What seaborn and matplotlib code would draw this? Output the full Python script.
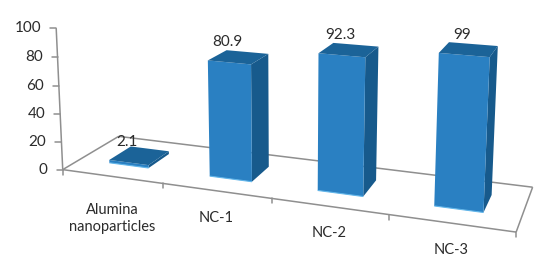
import numpy as np
import pandas as pd
import matplotlib
matplotlib.use("Agg")
import matplotlib.pyplot as plt
from matplotlib.transforms import Transform
import seaborn as sns

categories = ["Alumina\nnanoparticles", "NC-1", "NC-2", "NC-3"]
values = [2.1, 80.9, 92.3, 99]
value_labels = ["2.1", "80.9", "92.3", "99"]
y_ticks = [0, 20, 40, 60, 80, 100]

FRONT = "#2a80c2"
SIDE = "#175a8c"
TOP = "#1b6398"
RIM = "#62b6ea"
GREY = "#8f8f8f"
TEXT = "#2b2b2b"

# camera: (category pos, value, depth) seen at pixel (px, py), solved below
camera_world = np.array([
    [-0.5, 0, 0], [-0.5, 100, 0], [-0.5, 0, 1], [3.5, 0, 0], [3.5, 0, 1],
    [0.5, 0, 0], [1.5, 0, 0], [2.5, 0, 0],
    [-0.2, 2.1, 0.3], [0.2, 2.1, 0.3], [0.2, 2.1, 0.7], [-0.2, 2.1, 0.7],
    [0.8, 80.9, 0.3], [1.2, 80.9, 0.3], [0.8, 0, 0.3], [1.2, 0, 0.3], [1.2, 80.9, 0.7], [0.8, 80.9, 0.7],
    [1.8, 92.3, 0.3], [2.2, 92.3, 0.3], [1.8, 0, 0.3], [2.2, 0, 0.3], [2.2, 92.3, 0.7], [1.8, 92.3, 0.7],
    [2.8, 99, 0.3], [3.2, 99, 0.3], [2.8, 0, 0.3], [3.2, 0, 0.3], [3.2, 99, 0.7], [2.8, 99, 0.7],
], dtype=float)
camera_pixel = np.array([
    [63, 169], [56, 28], [119, 135], [516, 233], [533, 187],
    [163, 184], [272, 198], [388, 215],
    [110, 161], [149, 167], [169, 152], [129, 147],
    [208, 61], [251, 63], [210, 175], [252, 181], [268, 53], [227, 51],
    [318, 53], [366, 57], [318, 190], [363, 196], [378, 47], [334, 43],
    [439, 52], [490, 57], [434, 206], [484, 212], [498, 47], [448, 43],
], dtype=float)


def solve_camera(world, pixel):
    # plain DLT, scaled so the value axis doesn't dominate
    rows = []
    for (x, v, d), (u, w) in zip(world, pixel):
        p = [x, v / 100, d, 1]
        u, w = u / 100, w / 100
        rows.append(p + [0, 0, 0, 0] + [-u * c for c in p])
        rows.append([0, 0, 0, 0] + p + [-w * c for c in p])
    return np.linalg.svd(np.array(rows))[2][-1].reshape(3, 4)


P = solve_camera(camera_world, camera_pixel)


def project(x, v, d):
    x, v = np.asarray(x, dtype=float), np.asarray(v, dtype=float)
    h = np.stack([x, v / 100, np.full_like(x, d), np.ones_like(x)], axis=-1) @ P.T
    return h[..., :2] / h[..., 2:] * 100


class Perspective(Transform):
    input_dims = 2
    output_dims = 2

    def __init__(self, bar_depth):
        super().__init__()
        self.bar_depth = bar_depth

    def transform_non_affine(self, values):
        values = np.asarray(values)
        return project(values[:, 0], values[:, 1], self.bar_depth)


sns.set_theme(style="white")
plt.rcParams["font.family"] = ["Lato", "DejaVu Sans"]

df = pd.DataFrame({"category": categories, "value": values})
fig = plt.figure(figsize=(5.5, 2.76), dpi=100)
ax = fig.add_axes([0, 0, 1, 1])

bar_width = 0.4
d0, d1 = 0.3, 0.7
sns.barplot(data=df, x="category", y="value", color=FRONT, saturation=1, width=bar_width, ax=ax)


def line(xs, vs, ds, **kw):
    pts = np.array([project(x, v, d) for x, v, d in zip(xs, vs, ds)])
    ax.plot(pts[:, 0], pts[:, 1], color=kw.pop("color", GREY), solid_capstyle="butt", **kw)


# frame
lw = 1.1
line([-0.5, -0.5], [0, y_ticks[-1]], [0, 0], lw=lw, zorder=1)
line([-0.5, 3.5], [0, 0], [0, 0], lw=lw, zorder=1)
line([-0.5, -0.5], [0, 0], [0, 1], lw=lw, zorder=1)
line([-0.5, 3.5], [0, 0], [1, 1], lw=lw, zorder=1)
line([3.5, 3.5], [0, 0], [0, 1], lw=lw, zorder=1)

for t in y_ticks:
    px, py = project(-0.5, t, 0)
    ax.plot([px - 6, px], [py, py], color=GREY, lw=lw, zorder=1)
    ax.text(px - 15, py, str(t), ha="right", va="center", fontsize=11, color=TEXT)

for x in np.arange(-0.5, 4):
    px, py = project(x, 0, 0)
    ax.plot([px, px], [py, py + 5], color=GREY, lw=lw, zorder=1)

# bars from seaborn, pushed through the camera
for i, bar in enumerate(list(ax.patches)):
    left, right = bar.get_x(), bar.get_x() + bar.get_width()
    v = bar.get_height()
    bar.set_transform(Perspective(d0) + ax.transData)
    bar.set_clip_on(False)
    bar.set_zorder(3)
    bar.set_linewidth(0)

    side = [project(right, 0, d0), project(right, v, d0), project(right, v, d1), project(right, 0, d1)]
    top = [project(left, v, d0), project(right, v, d0), project(right, v, d1), project(left, v, d1)]
    ax.fill(*zip(*side), color=SIDE, lw=0, zorder=2.5)
    ax.fill(*zip(*top), color=TOP, lw=0, zorder=3.2)
    line([left, right], [0, 0], [d0, d0], color=RIM, lw=0.8, zorder=3.3)

    px, py = project(left + bar.get_width() / 2, v, d0)
    ax.text(px - 1.5, py - 20.5, value_labels[i], ha="center", va="center", fontsize=11, color=TEXT, zorder=5)

# category labels under the front edge
for i, name in enumerate(categories):
    px, py = project(i, 0, 0)
    dy = 42 if "\n" in name else 27
    ax.text(px, py + dy, name, ha="center", va="center", fontsize=10.5, color=TEXT, linespacing=1.2)

ax.set_xlim(0, 550)
ax.set_ylim(276, 0)
ax.axis("off")

fig.savefig("out.png", dpi=100)
